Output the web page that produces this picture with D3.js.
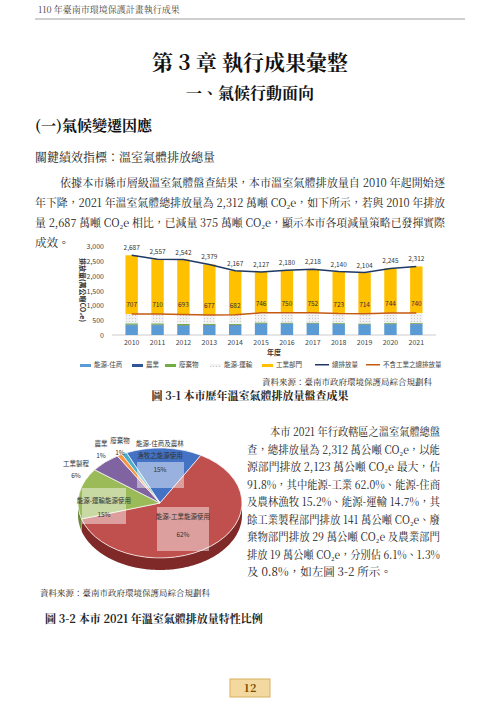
<!DOCTYPE html>
<html><head><meta charset="utf-8">
<script src="https://cdn.jsdelivr.net/npm/d3@7"></script>
<style>body{margin:0;background:#fff}svg{font-family:"Noto Serif CJK TC","Noto Sans CJK TC",serif}</style>
</head><body><svg id="s" width="500" height="707"></svg>
<script>
const years=["2010","2011","2012","2013","2014","2015","2016","2017","2018","2019","2020","2021"];
const residential=[330,330,310,320,320,370,370,370,360,340,360,360];
const agriculture=[19,19,19,19,19,19,19,19,19,19,19,19];
const waste=[45,45,45,40,35,35,30,30,30,30,30,29];
const transport=[313,316,319,298,308,322,331,333,314,325,335,332];
const industry=[1980,1847,1849,1702,1485,1381,1430,1466,1417,1390,1501,1572];
const totals=[2687,2557,2542,2379,2167,2127,2180,2218,2140,2104,2245,2312];
const nonIndustry=[707,710,693,677,682,746,750,752,723,714,744,740];
const yTicks=[0,500,1000,1500,2000,2500,3000];
const seriesNames=["能源-住商","農業","廢棄物","能源-運輸","工業部門","總排放量","不含工業之總排放量"];
const pieLabels=["能源-住商及農林漁牧之能源使用","能源-工業能源使用","能源-運輸能源使用","工業製程","廢棄物","農業"];
const pieValues=[15,62,15,6,1,1];

const svg=d3.select("#s");
const T=(x,y,t,o={})=>{const e=svg.append("text").attr("x",x).attr("y",y).text(t).attr("font-size",o.s||12).attr("fill",o.c||"#222").attr("text-anchor",o.a||"start");if(o.b)e.attr("font-weight","bold");return e;};
// header
T(38,13,"110 年臺南市環境保護計畫執行成果",{s:9,c:"#444"});
svg.append("line").attr("x1",35).attr("x2",465).attr("y1",19).attr("y2",19).attr("stroke","#888").attr("stroke-width",0.8);
T(250,70,"第 3 章  執行成果彙整",{s:21,a:"middle",b:1,c:"#111"});
T(250,99,"一、氣候行動面向",{s:16,a:"middle",b:1,c:"#111"});
T(35,131,"(一)氣候變遷因應",{s:15,b:1,c:"#111"});
T(35,162,"關鍵績效指標：溫室氣體排放總量",{s:12});
const para=["依據本市縣市層級溫室氣體盤查結果，本市溫室氣體排放量自 2010 年起開始逐","年下降，2021 年溫室氣體總排放量為 2,312 萬噸 CO₂e，如下所示，若與 2010 年排放","量 2,687 萬噸 CO₂e 相比，已減量 375 萬噸 CO₂e，顯示本市各項減量策略已發揮實際","成效。"];
para.forEach((p,i)=>{const t=T(i?35:60,187+i*20,p,{s:11.5});if(i<3)t.attr("textLength",i?410:385).attr("lengthAdjust","spacingAndGlyphs");});

// bar chart
const x=d3.scaleBand().domain(years).range([112,436]).padding(0.52);
const y=d3.scaleLinear().domain([0,3000]).range([335,246]);
const g=svg.append("g").attr("font-family","Noto Sans CJK TC, sans-serif");
yTicks.forEach(v=>{g.append("text").attr("x",104).attr("y",y(v)+3).attr("text-anchor","end").attr("font-size",7).attr("fill","#444").text(d3.format(",")(v));});
g.append("line").attr("x1",112).attr("x2",436).attr("y1",y(0)).attr("y2",y(0)).attr("stroke","#ccc");
const stackData=years.map((yr,i)=>({yr,a:residential[i],b:agriculture[i],c:waste[i],d:transport[i],e:industry[i]}));
const st=d3.stack().keys(["a","b","c","d","e"])(stackData);
const defs=svg.append("defs");
const pat=defs.append("pattern").attr("id","dots").attr("width",3).attr("height",3).attr("patternUnits","userSpaceOnUse");
pat.append("rect").attr("width",3).attr("height",3).attr("fill","#f2f2f2");
pat.append("rect").attr("width",1).attr("height",1).attr("fill","#c8c8c8");
const cols=["#5b9bd5","#2f5597","#70ad47","url(#dots)","#ffc000"];
st.forEach((s,k)=>{g.selectAll(null).data(s).enter().append("rect").attr("x",d=>x(d.data.yr)).attr("width",x.bandwidth()).attr("y",d=>y(d[1])).attr("height",d=>y(d[0])-y(d[1])).attr("fill",cols[k]);});
const line=d3.line().x((d,i)=>x(years[i])+x.bandwidth()/2).y(d=>y(d));
g.append("path").attr("d",line(totals)).attr("fill","none").attr("stroke","#1f3864").attr("stroke-width",1.5);
g.append("path").attr("d",line(nonIndustry)).attr("fill","none").attr("stroke","#c55a11").attr("stroke-width",1.5);
totals.forEach((v,i)=>g.append("text").attr("x",x(years[i])+x.bandwidth()/2).attr("y",y(v)-5).attr("text-anchor","middle").attr("font-size",6.5).attr("fill","#333").text(d3.format(",")(v)));
nonIndustry.forEach((v,i)=>g.append("text").attr("x",x(years[i])+x.bandwidth()/2).attr("y",y(v)+ -7).attr("text-anchor","middle").attr("font-size",6.5).attr("fill","#333").text(v));
years.forEach(yr=>g.append("text").attr("x",x(yr)+x.bandwidth()/2).attr("y",345).attr("text-anchor","middle").attr("font-size",7).attr("fill","#444").text(yr));
g.append("text").attr("x",274).attr("y",355).attr("text-anchor","middle").attr("font-size",7).attr("font-weight","bold").attr("fill","#333").text("年度");
g.append("text").attr("transform","translate(80,290) rotate(90)").attr("text-anchor","middle").attr("font-size",7).attr("font-weight","bold").attr("fill","#333").text("排放量(萬公噸CO₂e)");
const lx=[80,132,165,210,262,315,366],lc=["#5b9bd5","#2f5597","#70ad47","url(#dots)","#ffc000","#1f3864","#c55a11"];
seriesNames.forEach((n,i)=>{g.append("rect").attr("x",lx[i]).attr("y",364).attr("width",i<5?11:14).attr("height",i<5?3:1.5).attr("fill",lc[i]);g.append("text").attr("x",lx[i]+(i<5?14:17)).attr("y",367).attr("font-size",6.5).attr("fill","#444").text(n);});
T(432,385,"資料來源：臺南市政府環境保護局綜合規劃科",{s:8.5,a:"end"});
T(250,400,"圖 3-1  本市歷年溫室氣體排放量盤查成果",{s:11,a:"middle",b:1});

// pie 3D
const pcx=160,pcy=503,rx=82,ry=55,dep=12;
const pcol=["#4472c4","#c0504d","#9bbb59","#8064a2","#f79646","#4bacc6"];
const dark=["#2f528f","#7f2a28","#6a8a3a","#5a4473","#b86a2e","#2e7f96"];
const arcs=d3.pie().sort(null).startAngle(-0.42).endAngle(2*Math.PI-0.42)(pieValues);
const pg=svg.append("g");
// side (depth)
const sideArc=d3.arc().innerRadius(0).outerRadius(1);
arcs.forEach((a,i)=>{
  const s=Math.max(a.startAngle,Math.PI/2),e=Math.min(a.endAngle,Math.PI*1.5);
  if(e<=s)return;
  const pts=[];for(let t=s;t<=e+1e-6;t+=0.02)pts.push([pcx+rx*Math.sin(t),pcy-ry*Math.cos(t)]);
  const back=pts.slice().reverse().map(p=>[p[0],p[1]+dep]);
  pg.append("path").attr("d","M"+pts.concat(back).map(p=>p.join(",")).join("L")+"Z").attr("fill",dark[i]);
});
const arcG=d3.arc().innerRadius(0).outerRadius(1);
pg.append("g").attr("transform",`translate(${pcx},${pcy}) scale(${rx},${ry})`).selectAll("path").data(arcs).enter().append("path").attr("d",arcG).attr("fill",(d,i)=>pcol[i]).attr("stroke","#fff").attr("stroke-width",0.01);
const box=(x0,y0,w,h)=>pg.append("rect").attr("x",x0).attr("y",y0).attr("width",w).attr("height",h).attr("fill","#fff").attr("opacity",0.45);
const pt=(xx,yy,t)=>pg.append("text").attr("x",xx).attr("y",yy).attr("text-anchor","middle").attr("font-size",6.5).attr("fill","#333").attr("font-family","Noto Sans CJK TC,sans-serif").text(t);
box(137,462,47,26);pt(160,446,"能源-住商及農林");pt(160,458,"漁牧之能源使用");pt(160,472,pieValues[0]+"%");
box(157,507,52,44);pt(183,519,"能源-工業能源使用");pt(183,537,pieValues[1]+"%");
box(82,488,44,36);pt(104,503,"能源-運輸能源使用");pt(104,517,pieValues[2]+"%");
pt(76,466,pieLabels[3]);pt(76,478,pieValues[3]+"%");
pt(101,446,"農業");pt(101,458,pieValues[5]+"%");
pt(120,443,"廢棄物");pt(120,455,pieValues[4]+"%");
T(40,596,"資料來源：臺南市政府環境保護局綜合規劃科",{s:8.5});
T(45,623,"圖 3-2  本市 2021 年溫室氣體排放量特性比例",{s:11,b:1});
const rt=["本市 2021 年行政轄區之溫室氣體總盤","查，總排放量為 2,312 萬公噸 CO₂e，以能","源部門排放 2,123 萬公噸 CO₂e 最大，佔","91.8%，其中能源-工業 62.0%、能源-住商","及農林漁牧 15.2%、能源-運輸 14.7%，其","餘工業製程部門排放 141 萬公噸 CO₂e、廢","棄物部門排放 29 萬公噸 CO₂e 及農業部門","排放 19 萬公噸 CO₂e，分別佔 6.1%、1.3%","及 0.8%，如左圖 3-2 所示。"];
rt.forEach((l,i)=>{const t=T(i?247:270,436+i*17.5,l,{s:11.5});if(i<8)t.attr("textLength",i?193:170).attr("lengthAdjust","spacingAndGlyphs");});
// page number
svg.append("rect").attr("x",230).attr("y",679).attr("width",40).attr("height",18).attr("fill","#f3d9a0").attr("stroke","#d8b060");
T(250,692,"12",{s:11,a:"middle",b:1,c:"#7a4b00"});
</script></body></html>
